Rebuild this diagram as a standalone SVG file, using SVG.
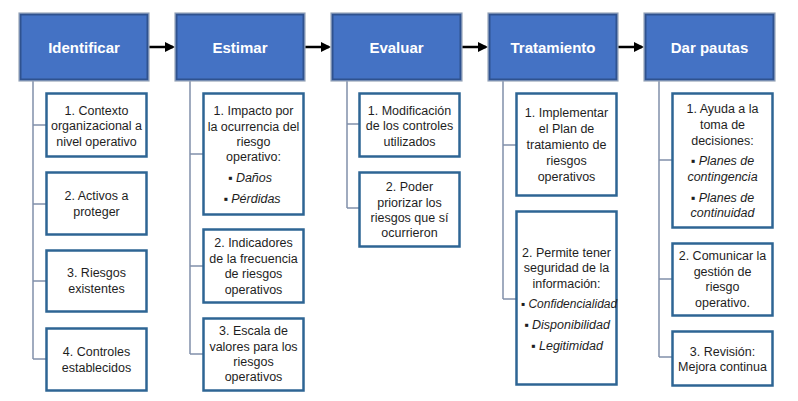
<svg xmlns="http://www.w3.org/2000/svg" width="798" height="401" viewBox="0 0 798 401">
<style>
.hdr-o{fill:none;stroke:#98a6b8;stroke-width:1.2}
.hdr{fill:#4472c4;stroke:#2f528f;stroke-width:2}
.ht{font-family:"Liberation Sans",Arial,sans-serif;font-weight:bold;font-size:15px;fill:#ffffff;text-anchor:middle}
.box-o{fill:none;stroke:#b9c3cf;stroke-width:1}
.box{fill:#ffffff;stroke:#2e6594;stroke-width:2.5}
.t{font-family:"Liberation Sans",Arial,sans-serif;font-size:12.5px;fill:#1e1e1e;text-anchor:middle}
.i{font-style:italic}
.conn{fill:none;stroke:#8190aa;stroke-width:1.5}
.arr{fill:none;stroke:#000000;stroke-width:2.5}
</style>
<defs>
<marker id="ah" markerWidth="4" markerHeight="4" refX="3.2" refY="2" orient="auto" markerUnits="strokeWidth">
<path d="M0,0 L4,2 L0,4 Z" fill="#000000"/>
</marker>
</defs>
<rect width="798" height="401" fill="#ffffff"/>
<g id="connectors">
<line class="arr" x1="149" y1="47" x2="173" y2="47" marker-end="url(#ah)"/>
<line class="arr" x1="305" y1="47" x2="329" y2="47" marker-end="url(#ah)"/>
<line class="arr" x1="462" y1="47" x2="486" y2="47" marker-end="url(#ah)"/>
<line class="arr" x1="618" y1="47" x2="642" y2="47" marker-end="url(#ah)"/>
<path class="conn" d="M33,81 V359 M33,125 H46 M33,204 H46 M33,281 H46 M33,359 H46"/>
<path class="conn" d="M190,81 V354 M190,154 H203 M190,266 H203 M190,354 H203"/>
<path class="conn" d="M347,81 V208 M347,124 H359 M347,208 H359"/>
<path class="conn" d="M503,81 V299 M503,145 H516 M503,299 H516"/>
<path class="conn" d="M659,81 V357 M659,160 H672 M659,279 H672 M659,357 H672"/>
</g>
<g id="identificar">
<rect class="hdr-o" x="19" y="13" width="130" height="68"/>
<rect class="hdr" x="20.5" y="14.5" width="127" height="65"/>
<text class="ht" x="84" y="52.5">Identificar</text>
</g>
<g id="estimar">
<rect class="hdr-o" x="175" y="13" width="130" height="68"/>
<rect class="hdr" x="176.5" y="14.5" width="127" height="65"/>
<text class="ht" x="240" y="52.5">Estimar</text>
</g>
<g id="evaluar">
<rect class="hdr-o" x="331" y="13" width="131" height="68"/>
<rect class="hdr" x="332.5" y="14.5" width="128" height="65"/>
<text class="ht" x="396.5" y="52.5">Evaluar</text>
</g>
<g id="tratamiento">
<rect class="hdr-o" x="488" y="13" width="130" height="68"/>
<rect class="hdr" x="489.5" y="14.5" width="127" height="65"/>
<text class="ht" x="553" y="52.5">Tratamiento</text>
</g>
<g id="dar-pautas">
<rect class="hdr-o" x="644" y="13" width="131" height="68"/>
<rect class="hdr" x="645.5" y="14.5" width="128" height="65"/>
<text class="ht" x="709.5" y="52.5">Dar pautas</text>
</g>
<g id="id-1">
<rect class="box" x="46.5" y="93.5" width="100" height="63"/>
<text class="t" x="96.5" y="114.5">1. Contexto</text>
<text class="t" x="96.5" y="130">organizacional a</text>
<text class="t" x="96.5" y="146">nivel operativo</text>
</g>
<g id="id-2">
<rect class="box" x="46.5" y="172.5" width="100" height="62"/>
<text class="t" x="96.5" y="200">2. Activos a</text>
<text class="t" x="96.5" y="215.5">proteger</text>
</g>
<g id="id-3">
<rect class="box" x="46.5" y="250.5" width="100" height="61"/>
<text class="t" x="96.5" y="277">3. Riesgos</text>
<text class="t" x="96.5" y="293">existentes</text>
</g>
<g id="id-4">
<rect class="box" x="46.5" y="328.5" width="100" height="62"/>
<text class="t" x="96.5" y="356">4. Controles</text>
<text class="t" x="96.5" y="372">establecidos</text>
</g>
<g id="es-1">
<rect class="box" x="203.5" y="93.5" width="100" height="121"/>
<text class="t" x="253.5" y="115">1. Impacto por</text>
<text class="t" x="253.5" y="130.5">la ocurrencia del</text>
<text class="t" x="253.5" y="145.5">riesgo</text>
<text class="t" x="253.5" y="160.5">operativo:</text>
<text class="t" x="250" y="181.5">▪ <tspan class="i">Daños</tspan></text>
<text class="t" x="252" y="202.5">▪ <tspan class="i">Pérdidas</tspan></text>
</g>
<g id="es-2">
<rect class="box" x="203.5" y="229.5" width="100" height="73"/>
<text class="t" x="253.5" y="247">2. Indicadores</text>
<text class="t" x="253.5" y="262.5">de la frecuencia</text>
<text class="t" x="253.5" y="278">de riesgos</text>
<text class="t" x="253.5" y="293.5">operativos</text>
</g>
<g id="es-3">
<rect class="box" x="203.5" y="318.5" width="100" height="72"/>
<text class="t" x="253.5" y="335">3. Escala de</text>
<text class="t" x="253.5" y="350.5">valores para los</text>
<text class="t" x="253.5" y="366">riesgos</text>
<text class="t" x="253.5" y="381">operativos</text>
</g>
<g id="ev-1">
<rect class="box" x="359.5" y="93.5" width="100" height="63"/>
<text class="t" x="409.5" y="115">1. Modificación</text>
<text class="t" x="409.5" y="130">de los controles</text>
<text class="t" x="409.5" y="145.5">utilizados</text>
</g>
<g id="ev-2">
<rect class="box" x="359.5" y="172.5" width="100" height="74"/>
<text class="t" x="409.5" y="191">2. Poder</text>
<text class="t" x="409.5" y="206.5">priorizar los</text>
<text class="t" x="409.5" y="221.5">riesgos que sí</text>
<text class="t" x="409.5" y="237">ocurrieron</text>
</g>
<g id="tr-1">
<rect class="box" x="516.5" y="93.5" width="100" height="102"/>
<text class="t" x="566.5" y="117">1. Implementar</text>
<text class="t" x="566.5" y="133">el Plan de</text>
<text class="t" x="566.5" y="149">tratamiento de</text>
<text class="t" x="566.5" y="165">riesgos</text>
<text class="t" x="566.5" y="181">operativos</text>
</g>
<g id="tr-2">
<rect class="box" x="516.5" y="211.5" width="100" height="173"/>
<text class="t" x="566.5" y="257">2. Permite tener</text>
<text class="t" x="566.5" y="272">seguridad de la</text>
<text class="t" x="566.5" y="287.5">información:</text>
<text class="t" x="569" y="308" style="font-size:12px">▪ <tspan class="i">Confidencialidad</tspan></text>
<text class="t" x="567" y="329">▪ <tspan class="i">Disponibilidad</tspan></text>
<text class="t" x="567" y="350">▪ <tspan class="i">Legitimidad</tspan></text>
</g>
<g id="dp-1">
<rect class="box" x="672.5" y="93.5" width="100" height="134"/>
<text class="t" x="722.5" y="113">1. Ayuda a la</text>
<text class="t" x="722.5" y="129">toma de</text>
<text class="t" x="722.5" y="144.5">decisiones:</text>
<text class="t" x="722.5" y="165">▪ <tspan class="i">Planes de</tspan></text>
<text class="t i" x="722.5" y="180.5">contingencia</text>
<text class="t" x="722.5" y="202">▪ <tspan class="i">Planes de</tspan></text>
<text class="t i" x="722.5" y="217">continuidad</text>
</g>
<g id="dp-2">
<rect class="box" x="672.5" y="243.5" width="100" height="72"/>
<text class="t" x="722.5" y="260">2. Comunicar la</text>
<text class="t" x="722.5" y="276">gestión de</text>
<text class="t" x="722.5" y="291">riesgo</text>
<text class="t" x="722.5" y="307">operativo.</text>
</g>
<g id="dp-3">
<rect class="box" x="672.5" y="331.5" width="100" height="54"/>
<text class="t" x="722.5" y="356">3. Revisión:</text>
<text class="t" x="722.5" y="370.5">Mejora continua</text>
</g>
</svg>
